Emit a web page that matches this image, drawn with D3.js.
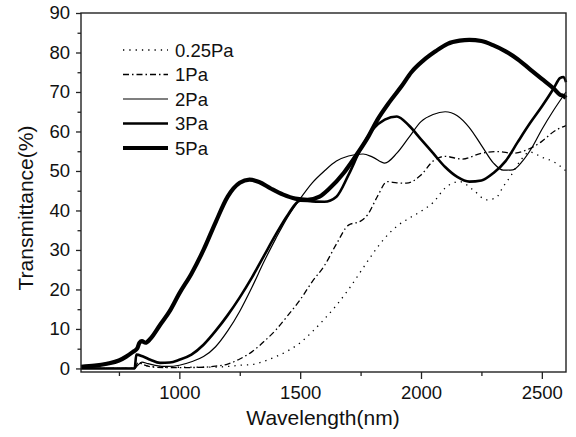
<!DOCTYPE html>
<html>
<head>
<meta charset="utf-8">
<script src="https://cdn.jsdelivr.net/npm/d3@7"></script>
<style>
  body { margin: 0; background: #fff; }
  svg { display: block; font-family: Arial, "Liberation Sans", sans-serif; }
</style>
</head>
<body>
<svg id="chart" width="576" height="437"></svg>
<script>
// transmittance spectra, wavelength (nm) -> T (%)
const wl025 = [593, 700, 815, 830, 850, 880, 950, 1100, 1200, 1250, 1300, 1350, 1400, 1450, 1500, 1550, 1600, 1650, 1700, 1750, 1800, 1850, 1900, 1950, 2000, 2050, 2100, 2160, 2220, 2270, 2310, 2340, 2370, 2410, 2450, 2500, 2550, 2600];
const t025 = [0, 0, 0, 1.5, 1, 0.5, 0.3, 0.3, 0.5, 0.8, 1, 1.8, 3, 4.5, 6.5, 9.3, 12.5, 16, 20, 24.5, 29, 33, 36, 38, 39.8, 42, 45.7, 47.3, 45, 42.7, 43.2, 46, 48.6, 52.5, 54.8, 53.5, 52.3, 50];

const wl1 = [593, 700, 815, 830, 850, 900, 1000, 1100, 1150, 1200, 1250, 1300, 1350, 1400, 1450, 1500, 1550, 1600, 1650, 1700, 1750, 1780, 1820, 1860, 1900, 1940, 2000, 2050, 2100, 2170, 2250, 2320, 2380, 2440, 2500, 2550, 2600];
const t1 = [0, 0, 0, 1.6, 1, 0.3, 0.2, 0.3, 0.6, 1.1, 2.4, 4.2, 6.8, 9.8, 13.5, 17.4, 22, 26, 31.5, 36.3, 37.3, 39, 43.6, 47.3, 47, 46.9, 49, 52.5, 53.7, 53, 54.5, 54.9, 54.5, 55.4, 57.5, 60, 61.5];

const wl2 = [593, 700, 815, 825, 845, 870, 900, 950, 1000, 1050, 1100, 1150, 1200, 1250, 1300, 1350, 1400, 1450, 1500, 1550, 1600, 1650, 1700, 1760, 1800, 1850, 1900, 1950, 2000, 2050, 2100, 2150, 2200, 2250, 2300, 2340, 2380, 2420, 2460, 2500, 2550, 2600];
const t2 = [0, 0, 0, 0.6, 1.6, 1.2, 0.8, 0.5, 0.8, 1.7, 3, 5.5, 9.5, 14.5, 20.5, 27, 33, 38.5, 43, 47, 50, 52.5, 53.8, 54.3, 53.5, 52, 54.5, 58.5, 62.5, 64.3, 65, 64, 61, 56.5, 52, 50.2, 50.3, 52.5, 56, 60.5, 65.5, 70];

const wl3 = [593, 700, 815, 822, 850, 880, 920, 960, 1000, 1050, 1100, 1150, 1200, 1250, 1300, 1350, 1400, 1450, 1500, 1550, 1600, 1650, 1700, 1750, 1800, 1850, 1900, 1950, 2000, 2050, 2100, 2150, 2200, 2250, 2300, 2350, 2400, 2450, 2500, 2550, 2575, 2590, 2600];
const t3 = [0, 0, 0, 3.5, 3, 2.2, 1.4, 1.5, 2.2, 3.5, 6, 9.5, 13.5, 18, 23, 28.5, 34, 39, 42.5, 42.3, 42.2, 43.5, 49, 55.5, 60.5, 63, 63.8, 61.5, 58, 54.5, 51, 48.5, 47.3, 47.6, 49.5, 52.5, 57.3, 62, 66.3, 71, 73.5, 73.8, 72.5];

const wl5 = [593, 650, 700, 750, 780, 810, 825, 835, 845, 860, 880, 920, 960, 1000, 1050, 1100, 1150, 1200, 1250, 1290, 1330, 1380, 1430, 1480, 1530, 1580, 1620, 1680, 1730, 1780, 1820, 1870, 1920, 1960, 2010, 2060, 2110, 2160, 2200, 2250, 2300, 2350, 2400, 2450, 2500, 2550, 2575, 2590, 2600];
const t5 = [0.4, 0.7, 1.2, 2, 3, 4.3, 5, 6.5, 6.9, 6.5, 7.5, 11, 14.5, 19, 24, 30, 37, 43.5, 47, 47.8, 47.2, 45.5, 44, 43, 42.7, 43.5, 45.5, 49.5, 53.8, 58.5, 63, 67.5, 71.5, 75, 78, 80.3, 82.2, 83, 83.2, 82.9, 81.8, 80.3, 78.3, 75.8, 73.3, 70.8, 69.3, 69, 68.5];

const seriesNames = ["0.25Pa", "1Pa", "2Pa", "3Pa", "5Pa"];
const xTicks = [1000, 1500, 2000, 2500];
const yTicks = [0, 10, 20, 30, 40, 50, 60, 70, 80, 90];

const series = [
    { name: seriesNames[0], x: wl025, y: t025, width: 1.3, dash: "1.3,5" },
    { name: seriesNames[1], x: wl1, y: t1, width: 1.3, dash: "6,3,1.5,3" },
    { name: seriesNames[2], x: wl2, y: t2, width: 1.2, dash: null },
    { name: seriesNames[3], x: wl3, y: t3, width: 2.6, dash: null },
    { name: seriesNames[4], x: wl5, y: t5, width: 4.2, dash: null }
];

const svg = d3.select("#chart");
const margin = { left: 81, right: 10, top: 13, bottom: 65 };
const x = d3.scaleLinear().domain([593, 2600]).range([81, 566]);
const y = d3.scaleLinear().domain([-0.9, 90]).range([372, 13]);

const line = d3.line()
    .x(d => x(d[0]))
    .y(d => y(d[1]))
    .curve(d3.curveMonotoneX);

const plot = svg.append("g");

series.forEach(s => {
    const pts = s.x.map((v, i) => [v, s.y[i]]);
    plot.append("path")
        .attr("d", line(pts))
        .attr("fill", "none")
        .attr("stroke", "#000")
        .attr("stroke-width", s.width)
        .attr("stroke-linejoin", "round")
        .attr("stroke-dasharray", s.dash);
});

// frame
svg.append("rect")
    .attr("x", 81).attr("y", 13)
    .attr("width", 485).attr("height", 359)
    .attr("fill", "none")
    .attr("stroke", "#222")
    .attr("stroke-width", 1.4);

// x axis
const xAxis = svg.append("g")
    .attr("transform", "translate(0,372)")
    .call(d3.axisBottom(x).tickValues(xTicks).tickSize(7).tickPadding(7).tickFormat(d3.format("d")));
xAxis.select(".domain").remove();
xAxis.selectAll("line").attr("stroke", "#222").attr("stroke-width", 1.3);
xAxis.selectAll("text").attr("font-size", 18.5).attr("fill", "#111");
svg.append("g")
    .attr("transform", "translate(0,372)")
    .call(d3.axisBottom(x).tickValues([750, 1250, 1750, 2250]).tickSize(4).tickFormat(""))
    .call(g => g.select(".domain").remove())
    .selectAll("line").attr("stroke", "#222").attr("stroke-width", 1.3);

// y axis
const yAxis = svg.append("g")
    .attr("transform", "translate(81,0)")
    .call(d3.axisLeft(y).tickValues(yTicks).tickSize(5).tickPadding(6));
yAxis.select(".domain").remove();
yAxis.selectAll("line").attr("stroke", "#222").attr("stroke-width", 1.3);
yAxis.selectAll("text").attr("font-size", 18.5).attr("fill", "#111");
svg.append("g")
    .attr("transform", "translate(81,0)")
    .call(d3.axisLeft(y).tickValues(d3.range(5, 90, 10)).tickSize(3.5).tickFormat(""))
    .call(g => g.select(".domain").remove())
    .selectAll("line").attr("stroke", "#222").attr("stroke-width", 1.3);

// titles
svg.append("text")
    .attr("x", 323).attr("y", 425)
    .attr("text-anchor", "middle")
    .attr("font-size", 21)
    .attr("fill", "#111")
    .text("Wavelength(nm)");

svg.append("text")
    .attr("transform", "translate(33,208) rotate(-90)")
    .attr("text-anchor", "middle")
    .attr("font-size", 21)
    .attr("fill", "#111")
    .text("Transmittance(%)");

// legend
const legend = svg.append("g");
series.forEach((s, i) => {
    const ly = 50 + i * 24.5;
    legend.append("line")
        .attr("x1", 123).attr("x2", 168)
        .attr("y1", ly).attr("y2", ly)
        .attr("stroke", "#000")
        .attr("stroke-width", s.width)
        .attr("stroke-dasharray", s.dash);
    legend.append("text")
        .attr("x", 175).attr("y", ly + 6.5)
        .attr("font-size", 18.5)
        .attr("fill", "#111")
        .text(s.name);
});
</script>
</body>
</html>
